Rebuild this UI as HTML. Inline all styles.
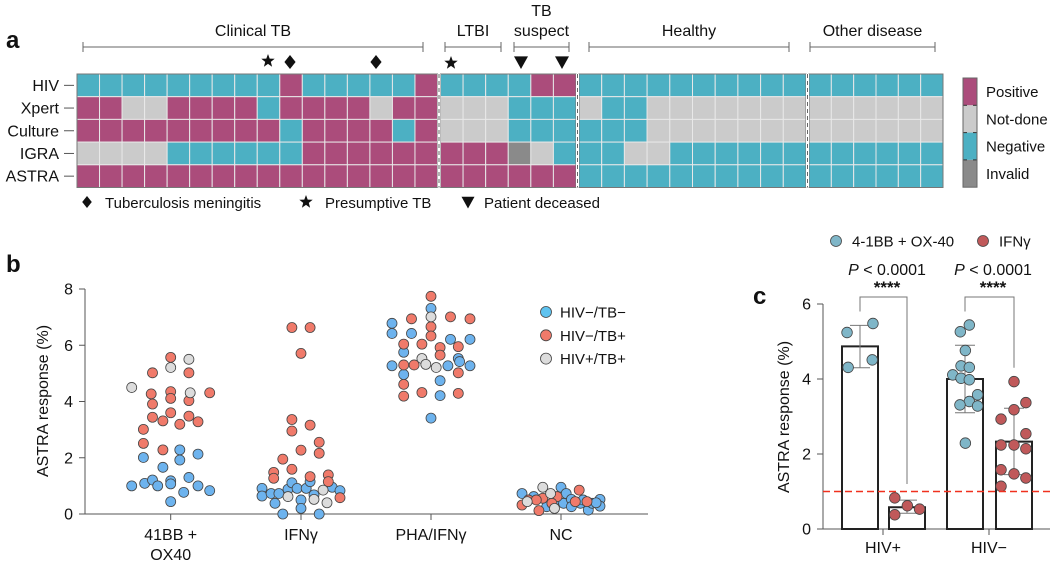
<!DOCTYPE html>
<html><head><meta charset="utf-8"><style>
html,body{margin:0;padding:0;background:#fff}
svg{display:block;font-family:"Liberation Sans",sans-serif}
</style></head><body>
<svg id="fig" width="1050" height="565" viewBox="0 0 1050 565" xmlns="http://www.w3.org/2000/svg"></svg>
<script>
// ---------- Panel a data ----------
const rowLabels = ["HIV","Xpert","Culture","IGRA","ASTRA"];
// P=positive, N=negative, D=not-done, I=invalid
const clinicalTB = ["NNNNNNNNNPNNNNNP","PPDDPPPPNPPPPDPP","PPPPPPPPPNPPPPNP","DDDDNNNNNNPPPPPP","PPPPPPPPPPPPPPPP"];
const ltbiSuspect = ["NNNNPP","DDDNNN","DDDNNN","PPPIDN","PPPPPP"];
const healthy = ["NNNNNNNNNN","DNNDDDDDDD","NNNDDDDDDD","NNDDNNNNNN","NNNNNNNNNN"];
const otherDisease = ["NNNNNN","DDDDDD","DDDDDD","NNNNNN","NNNNNN"];
const legendCats = ["Positive","Not-done","Negative","Invalid"];
// ---------- Panel b data ----------
const bCategories = ["41BB + OX40","IFNγ","PHA/IFNγ","NC"];
const bTicks = [0,2,4,6,8];
const bSeriesNames = ["HIV−/TB−","HIV−/TB+","HIV+/TB+"];
const bBlueVals = [[2.01,2.28,1.92,2.13,1.66,1.0,1.09,1.21,1.0,1.18,1.07,1.30,0.77,1.0,0.83,0.44],
 [0.91,0.64,0.73,0.73,0.38,0,0.88,1.11,0.91,0.50,0.20,0.91,1.15,0.68,0,0.95,0.83],
 [7.31,6.78,6.42,6.42,6.21,6.21,5.75,5.53,5.42,5.27,5.27,5.27,4.96,4.74,4.21,3.41],
 [0.73,0.62,0.95,0.73,0.26,0.47,0.38,0.52,0.26,0.38,0.14,0.38,0.52,0.28,0.40,0.50]];
const bBlueJit = [[-0.21,0.07,0.07,0.21,-0.06,-0.30,-0.20,-0.14,-0.10,0,0,0.14,0.10,0.21,0.30,0],
 [-0.30,-0.30,-0.23,-0.17,-0.20,-0.14,-0.10,-0.07,-0.03,0,0,0.04,0.07,0.10,0.14,0.24,0.30],
 [0,-0.30,-0.30,-0.15,0.15,0.30,-0.21,0.21,0.22,-0.30,0.13,0.30,-0.21,0.07,0.07,0],
 [-0.30,-0.21,0,0.04,-0.11,-0.05,0.02,0.08,0.08,0.15,0.21,0.24,0.30,0.30,0.27,0.17]];
const bRedVals = [[5.57,5.02,5.02,4.27,4.35,4.11,4.03,4.31,3.91,3.44,3.31,3.60,3.48,3.19,3.28,3.01,2.51,2.28],
 [6.63,6.63,5.71,3.36,2.95,3.16,2.27,2.55,2.16,1.95,1.59,1.48,1.27,1.33,1.39,1.15,0.58],
 [7.74,6.94,7.01,6.94,6.66,6.33,6.04,6.04,5.92,5.95,5.65,5.30,5.30,5.02,4.61,4.19,4.32,4.29],
 [0.32,0.50,0.12,0.56,0.50,0.85,0.62,0.44,0.44,0.38]];
const bRedJit = [[0,0.14,-0.14,-0.15,0,0,0.14,0.30,-0.14,-0.14,-0.06,0,0.14,0.07,0.21,-0.21,-0.21,-0.06],
 [-0.07,0.07,0,-0.07,-0.07,0.07,0,0.14,0.14,-0.14,-0.07,-0.21,-0.21,0.07,0.21,0.21,0.30],
 [0,-0.15,0.15,0.30,0,0,-0.21,-0.07,0.07,0.21,0.07,-0.21,-0.13,0.21,-0.21,-0.21,-0.07,0.21],
 [-0.30,-0.25,-0.17,-0.14,-0.19,0.14,-0.03,0.20,0.11,-0.07]];
const bGreyVals = [[4.5,5.21,5.5,4.31],[0.62,0.52,0.85,0.40],[7.01,5.53,5.32,5.21],[0.95,0.73,0.20,0.44]];
const bGreyJit = [[-0.30,0,0.14,0.15],[-0.10,0.10,0.17,0.20],[0,-0.07,-0.04,0.04],[-0.14,-0.08,-0.05,-0.26]];
// ---------- Panel c data ----------
const cGroups = ["HIV+","HIV−"];
const cTicks = [0,2,4,6];
const cSeriesNames = ["4-1BB + OX-40","IFNγ"];
const cMeans = [[4.87,0.58],[4.0,2.33]];
const cSdLo = [[4.3,0.42],[3.1,1.45]];
const cSdHi = [[5.43,0.77],[4.9,3.22]];
const cPoints = [[[5.24,5.48,4.31,4.51],[0.83,0.38,0.62,0.53]],
 [[5.44,5.26,4.76,4.35,4.31,4.11,4.02,3.98,3.58,3.40,3.31,3.28,2.29],[3.93,2.93,3.18,3.37,2.54,2.24,2.24,2.14,1.58,1.47,1.36,1.14]]];
const cJit = [[[-0.36,0.36,-0.33,0.34],[-0.34,-0.34,0.01,0.35]],
 [[0.12,-0.13,0.01,-0.11,0.12,-0.34,-0.11,0.12,0.35,0.12,-0.14,0.35,0.01],[0,-0.36,0,0.33,0.33,-0.36,0,0.33,-0.36,0,0.33,-0.36]]];
const cThreshold = 1.0;

const NS="http://www.w3.org/2000/svg";
const svg=document.getElementById('fig');
function mk(tag,attrs,parent){const e=document.createElementNS(NS,tag);for(const k in attrs)e.setAttribute(k,attrs[k]);(parent||svg).appendChild(e);return e;}
function txt(s,x,y,attrs,parent){const e=mk('text',Object.assign({x:x,y:y,'font-size':15,fill:'#111'},attrs||{}),parent);e.textContent=s;return e;}

// ===== Panel a =====
const colors={P:'#ab4c7b',N:'#4cb0c3',D:'#cbcbcb',I:'#8a8a8a'};
const gA=mk('g',{});


const pa=txt('a',6,48,{'font-size':24,'font-weight':'bold'});

const rowTop=74, rowH=22.7;
const blocks=[{d:clinicalTB,x0:77,x1:437.5,name:'clinical-tb'},{d:ltbiSuspect,x0:440.5,x1:576,name:'ltbi-tb-suspect'},{d:healthy,x0:579,x1:806,name:'healthy'},{d:otherDisease,x0:809,x1:943,name:'other-disease'}];
blocks.forEach(b=>{
  const n=b.d[0].length, w=(b.x1-b.x0)/n;
  b.d.forEach((row,r)=>{
    for(let c=0;c<n;c++){
      const rc=mk('rect',{x:b.x0+c*w,y:rowTop+r*rowH,width:w,height:rowH,fill:colors[row[c]],stroke:'#e8e8e8','stroke-width':1},gA);
      
      
    }
  });
  mk('rect',{x:b.x0,y:rowTop,width:b.x1-b.x0,height:rowH*5,fill:'none',stroke:'#777','stroke-width':1},gA);
});
[439,577.5,807.5].forEach(x=>{mk('rect',{x:x-1.5,y:rowTop,width:3,height:rowH*5,fill:'#fff'},gA);mk('line',{x1:x,x2:x,y1:rowTop,y2:rowTop+rowH*5,stroke:'#666','stroke-dasharray':'4,3','stroke-width':1},gA);});
rowLabels.forEach((l,r)=>{const y=rowTop+r*rowH+rowH/2;const t=txt(l,59,y+5.5,{'text-anchor':'end','font-size':16});mk('line',{x1:64,x2:74,y1:y,y2:y,stroke:'#555'});});
const groups=[["Clinical TB",83,423,30],["LTBI",445,501,44],["TB suspect",514,569,40],["Healthy",589,789,44],["Other disease",810,935,44]];
groups.forEach(g=>{
  const by=47;mk('path',{d:`M${g[1]},${by-5}V${by+5}M${g[1]},${by}H${g[2]}M${g[2]},${by-5}V${by+5}`,stroke:'#666',fill:'none'});
  const cx=(g[1]+g[2])/2;
  let t;
  if(g[0]==="TB suspect"){t=txt("TB",cx,16,{'text-anchor':'middle','font-size':16});txt("suspect",cx,36,{'text-anchor':'middle','font-size':16});}
  else t=txt(g[0],cx,36,{'text-anchor':'middle','font-size':16});
  
});
function star(cx,cy,r){let p='';for(let i=0;i<10;i++){const a=-Math.PI/2+i*Math.PI/5;const rr=i%2?r*0.42:r;p+=(i?'L':'M')+(cx+rr*Math.cos(a)).toFixed(1)+','+(cy+rr*Math.sin(a)).toFixed(1);}return p+'Z';}
function diamond(cx,cy,r){return `M${cx},${cy-r}L${cx+r*0.8},${cy}L${cx},${cy+r}L${cx-r*0.8},${cy}Z`;}
function tri(cx,cy,r){return `M${cx-r},${cy-r*0.8}L${cx+r},${cy-r*0.8}L${cx},${cy+r}Z`;}
[[star,268,61],[diamond,290,62],[diamond,376,62],[star,451,63],[tri,521,62],[tri,562,62]].forEach(m=>{const p=mk('path',{d:m[0](m[1],m[2],7),fill:'#111'});});
mk('path',{d:diamond(87,202,6),fill:'#111'});txt('Tuberculosis meningitis',105,208,{'font-size':15});
mk('path',{d:star(306,202,7),fill:'#111'});txt('Presumptive TB',325,208,{'font-size':15});
mk('path',{d:tri(468,202,6.5),fill:'#111'});txt('Patient deceased',484,208,{'font-size':15});
const lg=mk('g',{});
legendCats.forEach((c,i)=>{const y=78+i*27.3;mk('rect',{x:963,y:y,width:14,height:27.3,fill:[colors.P,colors.D,colors.N,colors.I][i]},lg);txt(c,986,y+19,{'font-size':15},lg);if(i)mk('line',{x1:963,x2:967,y1:y,y2:y,stroke:'#333'},lg);if(i)mk('line',{x1:973,x2:977,y1:y,y2:y,stroke:'#333'},lg);});
mk('rect',{x:963,y:78,width:14,height:109.2,fill:'none',stroke:'#666'},lg);

// ===== Panel b =====
const pb=txt('b',6,272,{'font-size':24,'font-weight':'bold'});
const bx0=85,by0=514,byTop=289,bXs=[170.7,301,431,561],bCatW=130;
const bY=v=>by0-(v/8)*(by0-byTop);
const bX=(c,j)=>bXs[c]+j*bCatW;
const gB=mk('g',{});
mk('line',{x1:bx0,x2:bx0,y1:byTop,y2:by0,stroke:'#555'},gB);
mk('line',{x1:bx0,x2:648,y1:by0,y2:by0,stroke:'#555'},gB);
bTicks.forEach(t=>{const y=bY(t);mk('line',{x1:bx0-6,x2:bx0,y1:y,y2:y,stroke:'#555'},gB);const e=txt(String(t),bx0-12,y+5.5,{'text-anchor':'end','font-size':16},gB);});
bCategories.forEach((c,i)=>{mk('line',{x1:bXs[i],x2:bXs[i],y1:by0,y2:by0+6,stroke:'#555'},gB);
  if(i===0){txt('41BB +',bXs[i],540,{'text-anchor':'middle','font-size':16},gB);txt('OX40',bXs[i],560,{'text-anchor':'middle','font-size':16},gB);}
  else{const e=txt(c,bXs[i],540,{'text-anchor':'middle','font-size':16},gB);}});
const yt=txt('ASTRA response (%)',0,0,{'text-anchor':'middle','font-size':16,transform:'translate(48,401) rotate(-90)'});
const bCols=['#6db3ee','#f07a6a','#dcdcdc'];
[[bBlueVals,bBlueJit,0],[bRedVals,bRedJit,1],[bGreyVals,bGreyJit,2]].forEach(s=>{
  s[0].forEach((vals,c)=>vals.forEach((v,k)=>{const d=mk('circle',{cx:bX(c,s[1][c][k]),cy:bY(v),r:5,fill:bCols[s[2]],stroke:'#444','stroke-width':0.8},gB);}));
});
bSeriesNames.forEach((n,i)=>{const y=312+i*23.3;const c=mk('circle',{cx:546,cy:y,r:5.5,fill:i===0?'#5fc3f0':bCols[i],stroke:'#444','stroke-width':0.8});txt(n,560,y+5.5,{'font-size':15});});

// ===== Panel c =====
const pc=txt('c',753,304,{'font-size':24,'font-weight':'bold'});
const cx0=823,cy0=529,cyTop=304;
const cY=v=>cy0-(v/6)*(cy0-cyTop);
const cBarX=[[860,907],[965,1014]],cBarW=36;
const gC=mk('g',{});
mk('line',{x1:cx0,x2:cx0,y1:cyTop,y2:cy0,stroke:'#555'},gC);
mk('line',{x1:cx0,x2:1050,y1:cy0,y2:cy0,stroke:'#555'},gC);
cTicks.forEach(t=>{const y=cY(t);mk('line',{x1:cx0-6,x2:cx0,y1:y,y2:y,stroke:'#555'},gC);txt(String(t),cx0-12,y+5.5,{'text-anchor':'end','font-size':16},gC);});
const ct=txt('ASTRA response (%)',0,0,{'text-anchor':'middle','font-size':16,transform:'translate(789,417) rotate(-90)'});
const cTickX=[883,989];
cGroups.forEach((g,i)=>{mk('line',{x1:cTickX[i],x2:cTickX[i],y1:cy0,y2:cy0+6,stroke:'#555'},gC);txt(g,cTickX[i],553,{'text-anchor':'middle','font-size':16},gC);});
const cCols=['#7fb6c8','#c0595a'];
cGroups.forEach((g,i)=>{[0,1].forEach(s=>{
  const x=cBarX[i][s];
  const b=mk('rect',{x:x-cBarW/2,y:cY(cMeans[i][s]),width:cBarW,height:cy0-cY(cMeans[i][s]),fill:'#fff',stroke:'#222','stroke-width':2},gC);
  
  mk('path',{d:`M${x},${cY(cSdLo[i][s])}V${cY(cSdHi[i][s])}M${x-10},${cY(cSdHi[i][s])}H${x+10}M${x-10},${cY(cSdLo[i][s])}H${x+10}`,stroke:'#777',fill:'none'},gC);
  cPoints[i][s].forEach((v,k)=>{const d=mk('circle',{cx:x+cJit[i][s][k]*cBarW,cy:cY(v),r:5.3,fill:cCols[s],stroke:'#444','stroke-width':0.8},gC);});
});});
const th=mk('line',{x1:cx0,x2:1050,y1:cY(cThreshold),y2:cY(cThreshold),stroke:'#f0301e','stroke-width':1.6,'stroke-dasharray':'7,4'},gC);

[[cBarX[0][0],cBarX[0][1],cY(5.8),cY(1.2)],[cBarX[1][0],cBarX[1][1],cY(5.8),cY(4.3)]].forEach((b,i)=>{
  const top=297;mk('path',{d:`M${b[0]},${b[2]}V${top}H${b[1]}V${b[3]}`,stroke:'#777',fill:'none'},gC);
  const cxm=cTickX[i]+4;
  const t=mk('text',{x:cxm,y:275,'text-anchor':'middle','font-size':16,fill:'#111'},gC);
  const it=mk('tspan',{'font-style':'italic'},t);it.textContent='P';const r=mk('tspan',{},t);r.textContent=' < 0.0001';
  
  txt('****',cxm,293,{'text-anchor':'middle','font-size':17,'font-weight':'bold'},gC);
});
cSeriesNames.forEach((n,i)=>{const x=[836,983][i];const c=mk('circle',{cx:x,cy:241,r:5.5,fill:cCols[i],stroke:'#444','stroke-width':0.8});txt(n,x+16,246.5,{'font-size':15});});
</script>
</body></html>
